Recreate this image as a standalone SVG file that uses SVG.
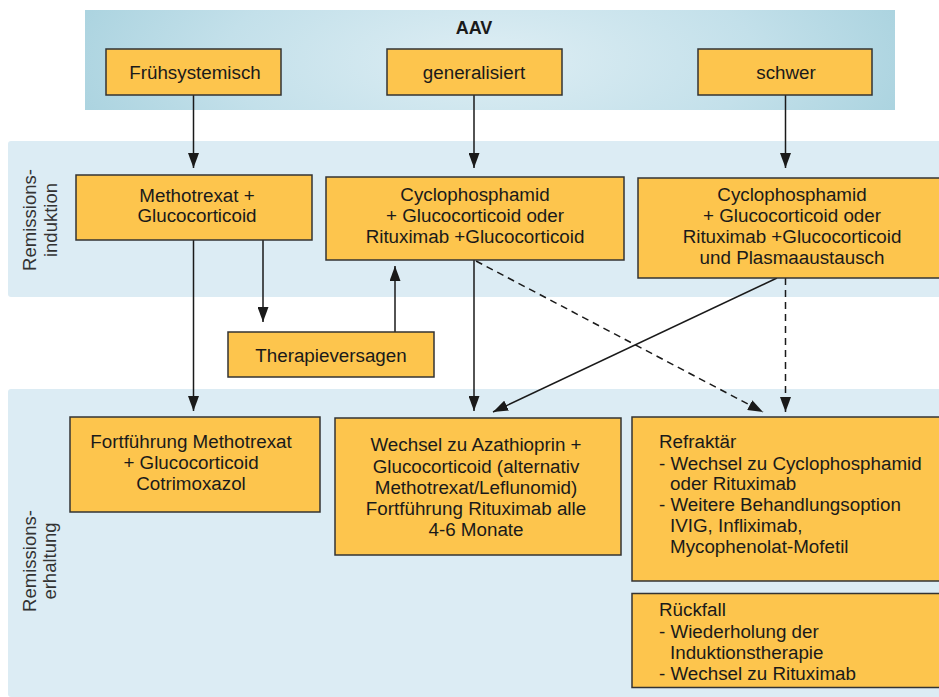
<svg xmlns="http://www.w3.org/2000/svg" width="939" height="697" viewBox="0 0 939 697">
<defs>
<radialGradient id="aavg" cx="0.5" cy="0.5" r="0.6" gradientTransform="translate(0.5 0.5) scale(1 3) translate(-0.5 -0.5)">
<stop offset="0" stop-color="#deeef4"/>
<stop offset="0.55" stop-color="#c3e0ea"/>
<stop offset="1" stop-color="#a3cfdc"/>
</radialGradient>
<marker id="ah" markerUnits="userSpaceOnUse" markerWidth="15" markerHeight="11" refX="15" refY="5.5" orient="auto">
<path d="M0,0 L15,5.5 L0,11 z" fill="#1a1a1a"/>
</marker>
<style>
.band{fill:#dcecf4}
.box{fill:#fdc54d;stroke:#333;stroke-width:1.5}
text{font-family:"Liberation Sans",Arial,sans-serif;font-size:18.8px;fill:#1a1a1a}
.c{text-anchor:middle}
.lab{font-size:18.5px;fill:#333}
.ln{stroke:#1a1a1a;stroke-width:1.5;fill:none;marker-end:url(#ah)}
.dash{stroke-dasharray:7 5}
</style>
</defs>
<rect x="0" y="0" width="939" height="697" fill="#ffffff"/>
<g id="bands">
<rect x="85" y="10" width="810" height="100" fill="url(#aavg)"/>
<rect class="band" x="8" y="141" width="940" height="156" rx="3"/>
<rect class="band" x="8" y="389" width="940" height="308" rx="3"/>
<text x="474" y="34" class="c" style="font-weight:bold;font-size:18px">AAV</text>
<text class="c lab" transform="translate(36 220) rotate(-90)">Remissions-</text>
<text class="c lab" transform="translate(57 220) rotate(-90)">induktion</text>
<text class="c lab" transform="translate(36 561) rotate(-90)">Remissions-</text>
<text class="c lab" transform="translate(56 561) rotate(-90)">erhaltung</text>
</g>
<g id="connectors">
<line class="ln" x1="193.5" y1="95" x2="193.5" y2="168"/>
<line class="ln" x1="474" y1="95" x2="474" y2="168"/>
<line class="ln" x1="785.5" y1="95" x2="785.5" y2="168"/>
<line class="ln" x1="193.5" y1="240" x2="193.5" y2="411"/>
<line class="ln" x1="263" y1="240" x2="263" y2="322"/>
<line class="ln" x1="395" y1="332" x2="395" y2="266"/>
<line class="ln" x1="474" y1="260" x2="474" y2="411"/>
<line class="ln" x1="777" y1="278" x2="493" y2="412"/>
<line class="ln dash" x1="476" y1="261" x2="763" y2="412"/>
<line class="ln dash" x1="785.5" y1="278" x2="785.5" y2="412"/>
</g>
<g id="n-fruehsystemisch">
<rect class="box" x="106" y="49" width="175" height="46"/>
<text x="195" y="79" class="c">Frühsystemisch</text>
</g>
<g id="n-generalisiert">
<rect class="box" x="387" y="49" width="175" height="46"/>
<text x="474" y="79" class="c">generalisiert</text>
</g>
<g id="n-schwer">
<rect class="box" x="698" y="49" width="174" height="46"/>
<text x="786" y="79" class="c">schwer</text>
</g>
<g id="n-mtx-induktion">
<rect class="box" x="76" y="175" width="236" height="65"/>
<text x="197" y="201.5" class="c">Methotrexat +</text>
<text x="197" y="221.5" class="c">Glucocorticoid</text>
</g>
<g id="n-cyc-induktion">
<rect class="box" x="326" y="177" width="298" height="83"/>
<text x="475" y="201" class="c">Cyclophosphamid</text>
<text x="475" y="222" class="c">+ Glucocorticoid oder</text>
<text x="475" y="243" class="c">Rituximab +Glucocorticoid</text>
</g>
<g id="n-cyc-plasma">
<rect class="box" x="638" y="178" width="310" height="100"/>
<text x="792" y="201" class="c">Cyclophosphamid</text>
<text x="792" y="222" class="c">+ Glucocorticoid oder</text>
<text x="792" y="243" class="c">Rituximab +Glucocorticoid</text>
<text x="792" y="264" class="c">und Plasmaaustausch</text>
</g>
<g id="n-therapieversagen">
<rect class="box" x="228" y="332" width="206" height="45"/>
<text x="331" y="362" class="c">Therapieversagen</text>
</g>
<g id="n-mtx-erhaltung">
<rect class="box" x="70" y="417" width="250" height="95"/>
<text x="191" y="448" class="c">Fortführung Methotrexat</text>
<text x="191" y="469" class="c">+ Glucocorticoid</text>
<text x="191" y="490" class="c">Cotrimoxazol</text>
</g>
<g id="n-azathioprin">
<rect class="box" x="335" y="418" width="286" height="137"/>
<text x="476" y="451" class="c">Wechsel zu Azathioprin +</text>
<text x="476" y="473" class="c">Glucocorticoid (alternativ</text>
<text x="476" y="494" class="c">Methotrexat/Leflunomid)</text>
<text x="476" y="515" class="c">Fortführung Rituximab alle</text>
<text x="476" y="536" class="c">4-6 Monate</text>
</g>
<g id="n-refraktaer">
<rect class="box" x="632" y="417" width="316" height="164"/>
<text x="659" y="448">Refraktär</text>
<text x="659" y="469.5">- Wechsel zu Cyclophosphamid</text>
<text x="670" y="490">oder Rituximab</text>
<text x="659" y="511">- Weitere Behandlungsoption</text>
<text x="670" y="532">IVIG, Infliximab,</text>
<text x="670" y="553">Mycophenolat-Mofetil</text>
</g>
<g id="n-rueckfall">
<rect class="box" x="632" y="593.5" width="316" height="94"/>
<text x="659" y="616">Rückfall</text>
<text x="659" y="638">- Wiederholung der</text>
<text x="670" y="659">Induktionstherapie</text>
<text x="659" y="680">- Wechsel zu Rituximab</text>
</g>
</svg>
